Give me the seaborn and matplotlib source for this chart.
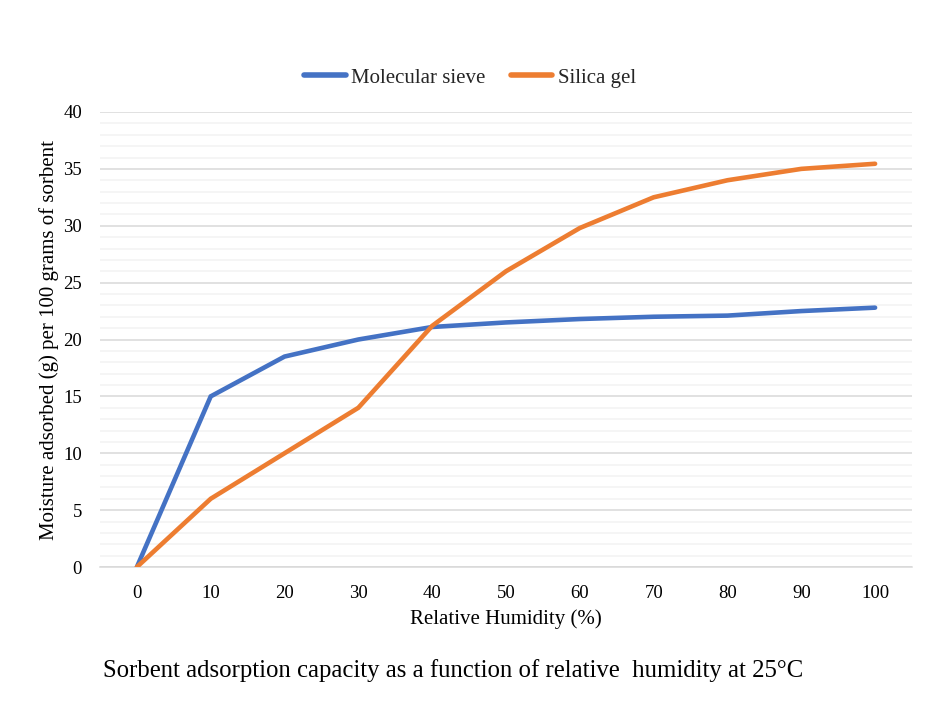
import pandas as pd
import matplotlib.pyplot as plt
import seaborn as sns

# Data
humidity = [0, 10, 20, 30, 40, 50, 60, 70, 80, 90, 100]
molecular_sieve = [0, 15, 18.5, 20, 21.1, 21.5, 21.8, 22.0, 22.1, 22.5, 22.8]
silica_gel = [0, 6, 10, 14, 21.2, 26, 29.8, 32.5, 34, 35, 35.45]
series_names = ["Molecular sieve", "Silica gel"]

df = pd.DataFrame({
    "humidity": humidity * 2,
    "moisture": molecular_sieve + silica_gel,
    "sorbent": [series_names[0]] * len(humidity) + [series_names[1]] * len(humidity),
})

sns.set_style("white")
plt.rcParams["font.family"] = ["Liberation Serif", "DejaVu Serif"]

fig = plt.figure(figsize=(9.4, 7.01), dpi=100)
ax = fig.add_axes([100 / 940, 1 - 567 / 701, 812 / 940, 455 / 701])

palette = {series_names[0]: "#4472C4", series_names[1]: "#ED7D31"}
sns.lineplot(data=df, x="humidity", y="moisture", hue="sorbent", palette=palette,
             linewidth=3.3, ax=ax, legend=False, zorder=3)
for line in ax.lines:
    line.set_solid_capstyle("round")
    line.set_solid_joinstyle("miter")

# axes and grid
ax.set_xlim(-5, 105)
ax.set_ylim(0, 40)
ax.set_xticks(humidity)
ax.set_yticks(range(0, 41, 5))
ax.set_yticks(range(0, 41, 1), minor=True)
ax.grid(True, which="major", axis="y", color="#D9D9D9", linewidth=1.1, zorder=1)
ax.grid(True, which="minor", axis="y", color="#F2F2F2", linewidth=1.1, zorder=0)
ax.grid(False, axis="x")
for s in ["top", "right", "left"]:
    ax.spines[s].set_visible(False)
ax.spines["bottom"].set_color("#D9D9D9")
ax.spines["bottom"].set_linewidth(1.1)
ax.tick_params(axis="both", which="both", length=0, labelsize=13.5, colors="black")
ax.tick_params(axis="y", pad=13)
ax.tick_params(axis="x", pad=13)

ax.set_xlabel("Relative Humidity (%)", fontsize=15, labelpad=5, color="black")
ax.set_ylabel("Moisture adsorbed (g) per 100 grams of sorbent", fontsize=15, labelpad=3, color="black")

# legend at the top
handles = [plt.Line2D([], [], color=palette[n], linewidth=4, solid_capstyle="round") for n in series_names]
fig.legend(handles, series_names, loc="center", bbox_to_anchor=(0.5, 1 - 78 / 701), ncol=2,
           frameon=False, fontsize=15, handlelength=2.0, handletextpad=0.25, columnspacing=1.2)

fig.text(103 / 940, 1 - 671 / 701, "Sorbent adsorption capacity as a function of relative  humidity at 25°C",
         fontsize=17.8, va="center", ha="left", color="black")

fig.savefig("out.png", dpi=100)
